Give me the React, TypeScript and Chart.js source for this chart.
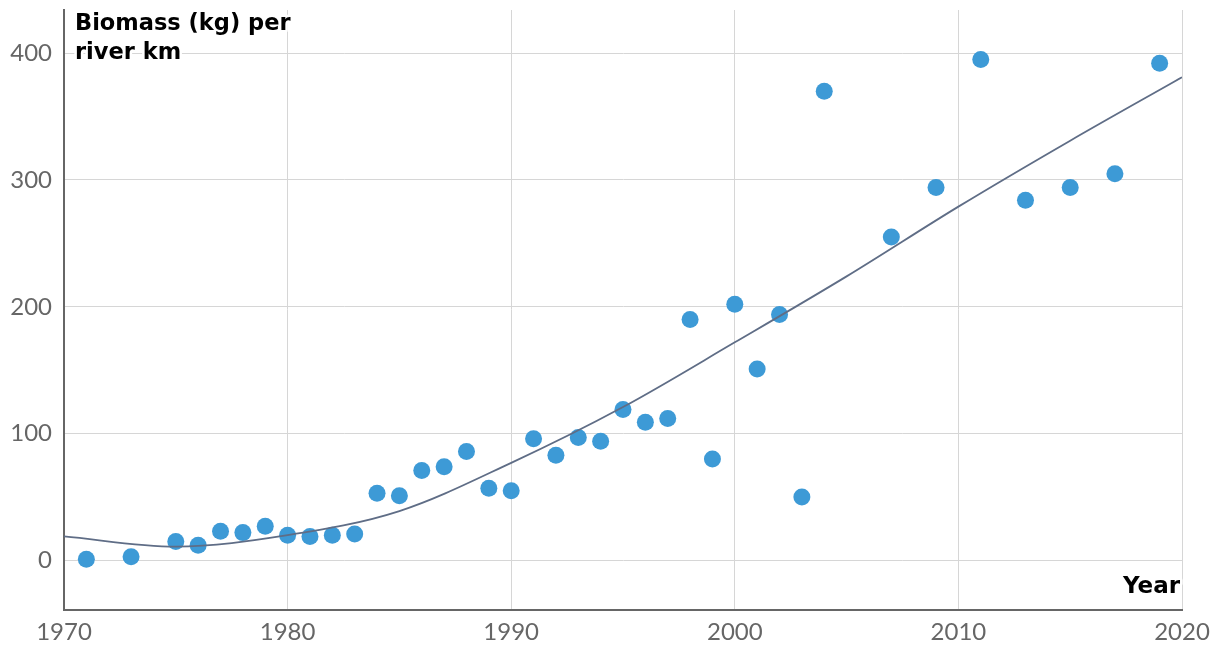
import React, { useEffect, useRef } from "react";
import { Chart, registerables } from "chart.js";

Chart.register(...registerables);

const years = [1971, 1973, 1975, 1976, 1977, 1978, 1979, 1980, 1981, 1982, 1983, 1984, 1985, 1986, 1987, 1988, 1989, 1990, 1991, 1992, 1993, 1994, 1995, 1996, 1997, 1998, 1999, 2000, 2001, 2002, 2003, 2004, 2007, 2009, 2011, 2013, 2015, 2017, 2019];
const biomass = [1, 3, 15, 12, 23, 22, 27, 20, 19, 20, 21, 53, 51, 71, 74, 86, 57, 55, 96, 83, 97, 94, 119, 109, 112, 190, 80, 202, 151, 194, 50, 370, 255, 294, 395, 284, 294, 305, 392];

const trendYears = [1970, 1975, 1980, 1985, 1990, 1995, 2000, 2005, 2010, 2015, 2020];
const trendValues = [19, 11, 20, 39, 77, 121, 172, 224, 279, 331, 381];

const xTicks = [1970, 1980, 1990, 2000, 2010, 2020];
const yTicks = [0, 100, 200, 300, 400];

const yTitleLines = ["Biomass (kg) per", "river km"];
const xTitle = "Year";

const TICK_FONT = "Lato, 'Open Sans', sans-serif";
const TITLE_FONT = "'DejaVu Sans', sans-serif";

const titlePlugin = {
  id: "titles",
  afterDraw(chart: any) {
    const ctx = chart.ctx;
    const area = chart.chartArea;
    ctx.save();
    ctx.font = `bold 22.5px ${TITLE_FONT}`;
    ctx.textBaseline = "alphabetic";
    ctx.lineJoin = "round";
    const draw = (t: string, x: number, y: number, align: CanvasTextAlign) => {
      ctx.textAlign = align;
      ctx.strokeStyle = "#ffffff";
      ctx.lineWidth = 5;
      ctx.strokeText(t, x, y);
      ctx.fillStyle = "#000000";
      ctx.fillText(t, x, y);
    };
    draw(yTitleLines[0], area.left + 11, area.top + 20, "left");
    draw(yTitleLines[1], area.left + 11, area.top + 49, "left");
    ctx.font = `bold 23px ${TITLE_FONT}`;
    draw(xTitle, area.right - 2, area.bottom - 17, "right");
    ctx.restore();
  },
};

export default function App() {
  const ref = useRef<HTMLCanvasElement>(null);
  useEffect(() => {
    if (!ref.current) return;
    const chart = new Chart(ref.current, {
      type: "scatter",
      data: {
        datasets: [
          {
            type: "line",
            data: trendYears.map((x, i) => ({ x, y: trendValues[i] })),
            borderColor: "#5f6d86",
            borderWidth: 1.8,
            pointRadius: 0,
            cubicInterpolationMode: "monotone",
            fill: false,
            order: 0,
          } as any,
          {
            type: "scatter",
            data: years.map((x, i) => ({ x, y: biomass[i] })),
            backgroundColor: "#3d9ad6",
            borderWidth: 0,
            pointRadius: 8.5,
            pointHoverRadius: 8.5,
            order: 1,
          },
        ],
      },
      options: {
        animation: false,
        responsive: true,
        maintainAspectRatio: false,
        layout: { padding: { left: 0, right: 38, top: 10, bottom: 0 } },
        plugins: { legend: { display: false }, tooltip: { enabled: false } },
        scales: {
          x: {
            type: "linear",
            min: 1970,
            max: 2020,
            afterBuildTicks: (s: any) => {
              s.ticks = xTicks.map((v) => ({ value: v }));
            },
            afterFit: (s: any) => {
              s.height = 46;
              s.paddingLeft = 0;
              s.paddingRight = 0;
            },
            ticks: {
              callback: (v: any) => String(v),
              color: "#666666",
              font: { family: TICK_FONT, size: 24 },
              padding: 8,
              maxRotation: 0,
            },
            grid: { color: "#d6d6d6", lineWidth: 1, drawTicks: false },
            border: { display: true, color: "#666666", width: 2 },
          },
          y: {
            type: "linear",
            min: -39,
            max: 434,
            afterBuildTicks: (s: any) => {
              s.ticks = yTicks.map((v) => ({ value: v }));
            },
            afterFit: (s: any) => {
              s.width = 64;
              s.paddingTop = 0;
              s.paddingBottom = 0;
            },
            ticks: {
              callback: (v: any) => String(v),
              color: "#666666",
              font: { family: TICK_FONT, size: 24 },
              padding: 12,
            },
            grid: { color: "#d6d6d6", lineWidth: 1, drawTicks: false },
            border: { display: true, color: "#666666", width: 2 },
          },
        },
      },
      plugins: [titlePlugin],
    });
    return () => chart.destroy();
  }, []);
  return (
    <div style={{ position: "fixed", left: 0, top: 0, width: 1220, height: 656, background: "#fff" }}>
      <canvas ref={ref} />
    </div>
  );
}
